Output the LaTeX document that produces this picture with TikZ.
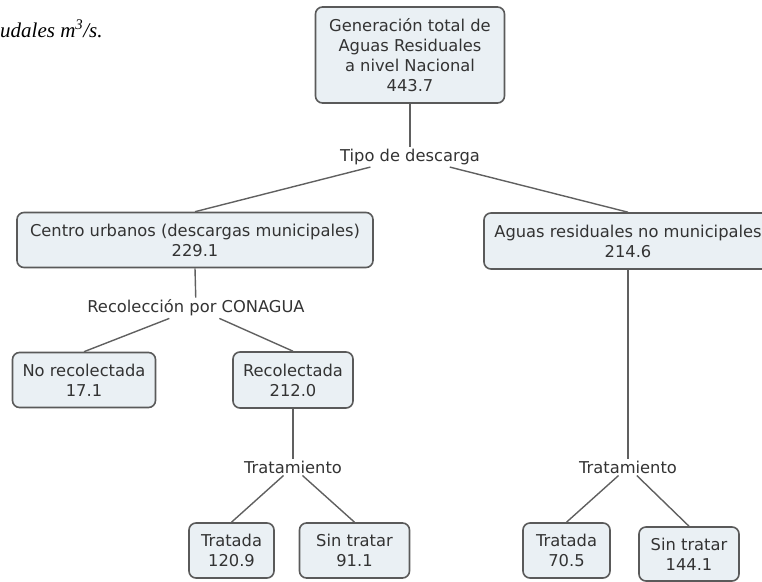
\documentclass[tikz,border=0pt]{standalone}
\usepackage{fontspec}
\setmainfont{DejaVu Sans}
\newfontfamily\capfont{Liberation Serif}
\definecolor{boxfill}{HTML}{EAF0F4}
\definecolor{boxline}{HTML}{5A5A5A}
\definecolor{linegray}{HTML}{606060}
\definecolor{txtgray}{HTML}{333333}

\begin{document}
\begin{tikzpicture}[x=1pt, y=-1pt,
    box/.style={rectangle, draw=boxline, fill=boxfill, rounded corners=7pt, line width=1.6pt, text=txtgray, align=center, inner sep=0pt, font=\fontsize{16.3}{20}\selectfont},
    lbl/.style={text=txtgray, inner sep=2pt, font=\fontsize{16.3}{20}\selectfont},
    link/.style={draw=linegray, line width=1.4pt}
]
\useasboundingbox (0,0) rectangle (762,581);

% Unidades
\node[anchor=west, inner sep=0pt, text=black, font=\capfont\itshape\fontsize{21}{24}\selectfont] (unidad) at (0,29) {udales m\textsuperscript{3}/s.};

% Generacion total
\node[box, minimum width=189, minimum height=96] (total) at (410,55) {Generación total de \\ Aguas Residuales \\ a nivel Nacional \\ 443.7};
\node[lbl] (tipo) at (410,157) {Tipo de descarga};

% Descargas municipales
\node[box, minimum width=356, minimum height=55] (centro) at (195,240) {Centro urbanos (descargas municipales) \\ 229.1};
\node[lbl] (reco) at (196,308) {Recolección por CONAGUA};
\node[box, minimum width=143, minimum height=55] (norec) at (84,380) {No recolectada \\ 17.1};
\node[box, minimum width=120, minimum height=56] (recol) at (293,380) {Recolectada \\ 212.0};
\node[lbl] (tratA) at (293,467) {Tratamiento};
\node[box, minimum width=85, minimum height=55] (tratadaA) at (231.5,550.5) {Tratada \\ 120.9};
\node[box, minimum width=110, minimum height=55] (sinA) at (354.5,550.5) {Sin tratar \\ 91.1};

% Descargas no municipales
\node[box, minimum width=288, minimum height=56] (aguas) at (628,241) {Aguas residuales no municipales \\ 214.6};
\node[lbl] (tratB) at (628,467) {Tratamiento};
\node[box, minimum width=87, minimum height=55] (tratadaB) at (566.5,550.5) {Tratada \\ 70.5};
\node[box, minimum width=100, minimum height=54] (sinB) at (689,554) {Sin tratar \\ 144.1};

% Enlaces
\draw[link] (total) -- (tipo);
\draw[link] (tipo) -- (centro.north);
\draw[link] (tipo) -- (aguas.north);
\draw[link] (centro.south) -- (reco);
\draw[link] (reco) -- (norec.north);
\draw[link] (reco) -- (recol.north);
\draw[link] (recol.south) -- (tratA);
\draw[link] (tratA) -- (tratadaA.north);
\draw[link] (tratA) -- (sinA.north);
\draw[link] (aguas.south) -- (tratB);
\draw[link] (tratB) -- (tratadaB.north);
\draw[link] (tratB) -- (sinB.north);

\end{tikzpicture}
\end{document}
